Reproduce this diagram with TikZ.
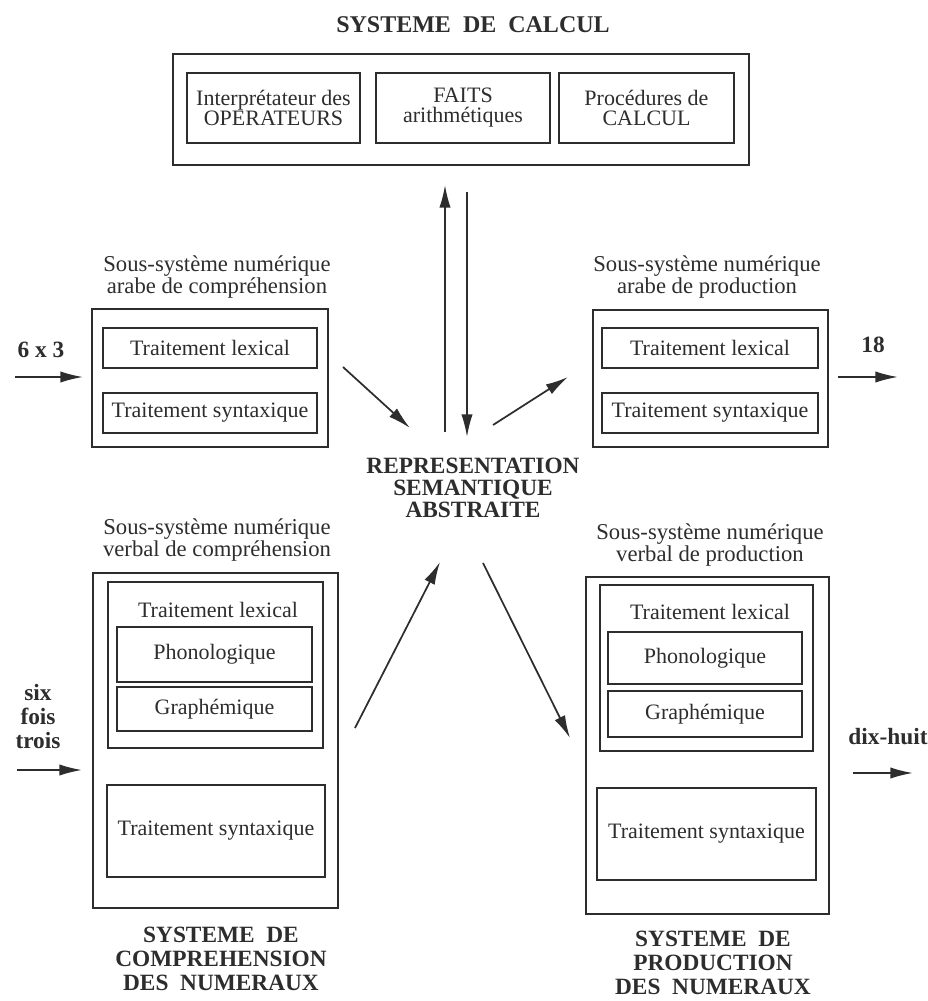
\documentclass[tikz,border=0pt]{standalone}
\usepackage{fontspec}
\setmainfont{Liberation Serif}
\usetikzlibrary{arrows.meta}
\usetikzlibrary{positioning}
\definecolor{ink}{RGB}{45,45,45}

\begin{document}
\begin{tikzpicture}[x=0.75pt,y=0.75pt,yscale=-1,xscale=1,
    lbl/.style={font=\fontsize{17}{16}\selectfont, text=ink, align=center, inner sep=0pt},
    blbl/.style={lbl, font=\fontsize{17.5}{16.5}\selectfont\bfseries},
    bas/.style={blbl, font=\fontsize{17.5}{18}\selectfont\bfseries},
    cadre/.style={draw=ink, line width=1.4pt, inner sep=0pt, align=center, text=ink, font=\fontsize{16.5}{15}\selectfont},
    taille/.style 2 args={minimum width=#1*0.75pt, minimum height=#2*0.75pt},
    fleche/.style={draw=ink, line width=1.3pt, -{Latex[length=17pt,width=8.5pt]}}]
    \useasboundingbox (0,0) rectangle (928,1001);

    % systeme de calcul
    \node (calctitre) [blbl, font=\fontsize{18}{16}\selectfont\bfseries] at (473,25) {SYSTEME\ \ DE\ \ CALCUL};
    \node (calc) [cadre, taille={576}{111}] at (461,109.5) {};
    \node (interp) [cadre, taille={173}{70}] at (273.5,108) {Interprétateur des\\OPERATEURS};
    \node (faits) [cadre, taille={174}{70}] at (463,108) {FAITS\\arithmétiques};
    \node (proc) [cadre, taille={175}{70}] at (646.5,108) {Procédures de\\CALCUL};

    % representation semantique
    \node (rep) [blbl] at (473,488) {REPRESENTATION\\SEMANTIQUE\\ABSTRAITE};

    % arabe comprehension
    \node (arabcomptitre) [lbl] at (217,277) {Sous-système numérique\\arabe de compréhension};
    \node (arabcomp) [cadre, taille={236}{138}] at (210,378) {};
    \node (arabcomplex) [cadre, taille={214}{40}] at (210,348) {Traitement lexical};
    \node (arabcompsyn) [cadre, taille={214}{40}] at (210,413) {Traitement syntaxique};
    \node (entreearab) [blbl] at (41,350) {6 x 3};

    % arabe production
    \node (arabprodtitre) [lbl] at (707,277) {Sous-système numérique\\arabe de production};
    \node (arabprod) [cadre, taille={235}{137}] at (710.5,378.5) {};
    \node (arabprodlex) [cadre, taille={216}{40}] at (710,348) {Traitement lexical};
    \node (arabprodsyn) [cadre, taille={216}{40}] at (710,413) {Traitement syntaxique};
    \node (sortiearab) [blbl] at (873,345) {18};

    % verbal comprehension
    \node (verbcomptitre) [lbl] at (217,540) {Sous-système numérique\\verbal de compréhension};
    \node (verbcomp) [cadre, taille={245}{335}] at (215.5,740.5) {};
    \node (verbcomplex) [cadre, taille={215}{166}] at (215.5,665) {};
    \node (verbcomplextxt) [lbl, font=\fontsize{16.5}{15}\selectfont] at (218,610) {Traitement lexical};
    \node (verbcompphon) [cadre, taille={195}{55}] at (214.5,654.5) {Phonologique};
    \node (verbcompgraph) [cadre, taille={195}{44}] at (214.5,709) {Graphémique};
    \node (verbcompsyn) [cadre, taille={218}{92}] at (216,831) {Traitement syntaxique};
    \node (entreeverb) [bas] at (38,717) {six\\fois\\trois};
    \node (comptitre) [bas] at (221,959) {SYSTEME\ \ DE\\COMPREHENSION\\DES\ \ NUMERAUX};

    % verbal production
    \node (verbprodtitre) [lbl] at (710,545) {Sous-système numérique\\verbal de production};
    \node (verbprod) [cadre, taille={243}{337}] at (707.5,745.5) {};
    \node (verbprodlex) [cadre, taille={213}{166}] at (706.5,668) {};
    \node (verbprodlextxt) [lbl, font=\fontsize{16.5}{15}\selectfont] at (710,612) {Traitement lexical};
    \node (verbprodphon) [cadre, taille={194}{52}] at (705,658) {Phonologique};
    \node (verbprodgraph) [cadre, taille={194}{46}] at (705,714) {Graphémique};
    \node (verbprodsyn) [cadre, taille={219}{92}] at (706.5,834) {Traitement syntaxique};
    \node (sortieverb) [blbl] at (888,737) {dix-huit};
    \node (prodtitre) [bas] at (713,963) {SYSTEME\ \ DE\\PRODUCTION\\DES\ \ NUMERAUX};

    % bouts des fleches
    \coordinate (e1a) at (15,377);   \coordinate (e1b) at (83,377);
    \coordinate (s1a) at (838,377);  \coordinate (s1b) at (898,377);
    \coordinate (e2a) at (17,770);   \coordinate (e2b) at (82,770);
    \coordinate (s2a) at (853,773);  \coordinate (s2b) at (913,773);
    \coordinate (hauta) at (445,432); \coordinate (hautb) at (445,185);
    \coordinate (basa) at (467,192);  \coordinate (basb) at (467,437);
    \coordinate (d1a) at (343,367);  \coordinate (d1b) at (410,428);
    \coordinate (d2a) at (493,425);  \coordinate (d2b) at (568,377);
    \coordinate (d3a) at (355,728);  \coordinate (d3b) at (440,562);
    \coordinate (d4a) at (483,563);  \coordinate (d4b) at (570,738);

    \draw [fleche] (e1a) -- (e1b);
    \draw [fleche] (s1a) -- (s1b);
    \draw [fleche] (e2a) -- (e2b);
    \draw [fleche] (s2a) -- (s2b);
    \draw [fleche] (hauta) -- (hautb);
    \draw [fleche] (basa) -- (basb);
    \draw [fleche] (d1a) -- (d1b);
    \draw [fleche] (d2a) -- (d2b);
    \draw [fleche] (d3a) -- (d3b);
    \draw [fleche] (d4a) -- (d4b);
\end{tikzpicture}
\end{document}
